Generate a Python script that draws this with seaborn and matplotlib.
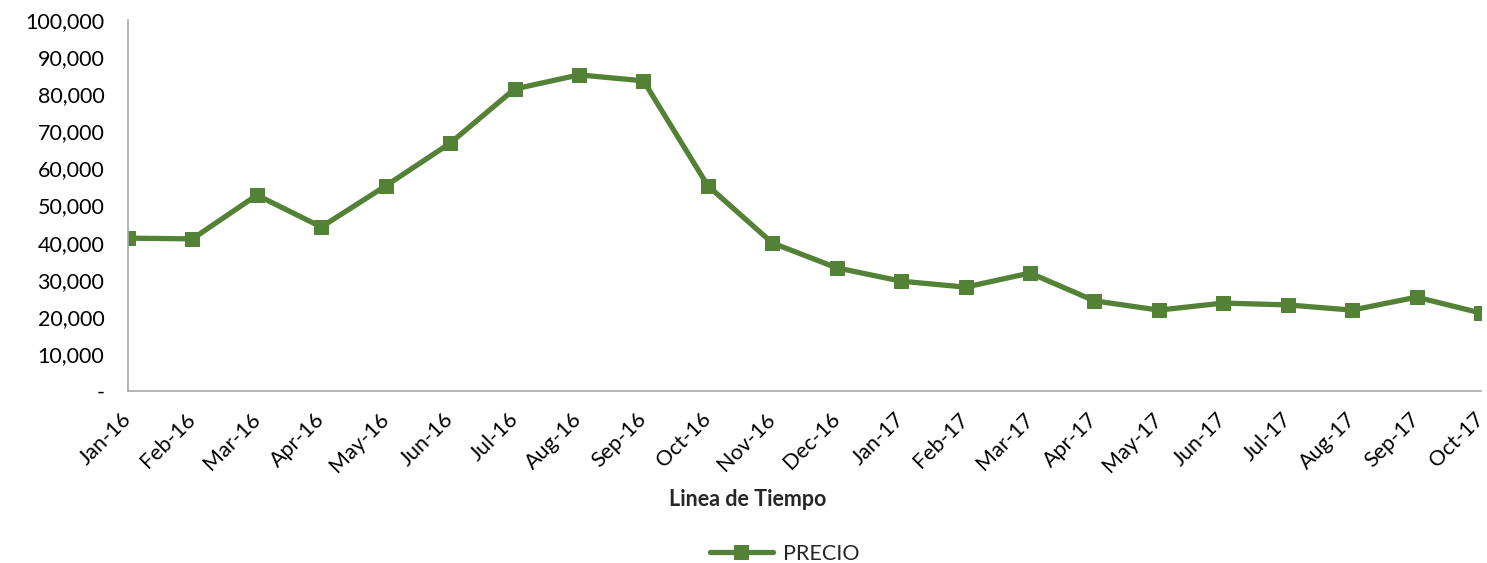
import matplotlib
matplotlib.use("Agg")
import matplotlib.pyplot as plt
import matplotlib.transforms as mtransforms
import seaborn as sns
import pandas as pd
from matplotlib.ticker import FuncFormatter

months = ["Jan-16", "Feb-16", "Mar-16", "Apr-16", "May-16", "Jun-16", "Jul-16",
          "Aug-16", "Sep-16", "Oct-16", "Nov-16", "Dec-16", "Jan-17", "Feb-17",
          "Mar-17", "Apr-17", "May-17", "Jun-17", "Jul-17", "Aug-17", "Sep-17", "Oct-17"]
precio = [41200, 41000, 52800, 44200, 55300, 66800, 81400, 85200, 83600, 55300,
          39900, 33200, 29600, 28000, 31800, 24300, 21800, 23700, 23200, 21800,
          25300, 21000]

sns.set_style("white")
plt.rcParams['font.family'] = ['Lato', 'DejaVu Sans']

df = pd.DataFrame({"mes": months, "PRECIO": precio})
df["pos"] = range(len(df))

fig = plt.figure(figsize=(14.87, 5.63), dpi=100)
ax = fig.add_axes([0.0861, 0.3055, 0.9099, 0.659])

green = "#538135"
sns.lineplot(data=df, x="pos", y="PRECIO", ax=ax, color=green, linewidth=3.8,
             marker="s", markersize=10, markeredgecolor=green, label="PRECIO",
             legend=False)

ax.set_xlim(0, len(months) - 1)
ax.set_ylim(0, 100000)
ax.set_yticks(range(0, 100001, 10000))
ax.yaxis.set_major_formatter(FuncFormatter(lambda v, p: "-" if v == 0 else f"{v:,.0f}"))
ax.set_xticks(df["pos"])
ax.set_xticklabels(months, rotation=45, ha="right", rotation_mode="anchor")

for s in ["top", "right"]:
    ax.spines[s].set_visible(False)
for s in ["left", "bottom"]:
    ax.spines[s].set_color("#a6a6a6")
    ax.spines[s].set_linewidth(1.2)
ax.tick_params(axis="both", which="both", direction="out", length=7, width=1.2,
               color="#a6a6a6", labelsize=15.5, labelcolor="#000000")
ax.tick_params(axis="x", pad=6)
ax.tick_params(axis="y", pad=10)

ax.set_ylabel("")
ax.set_xlabel("")
fig.text(748 / 1487, 1 - 500 / 563, "Linea de Tiempo", fontsize=15.5,
         fontweight="bold", ha="center", va="center")

handles, labels = ax.get_legend_handles_labels()
fig.legend(handles, labels, loc="center", bbox_to_anchor=(785 / 1487, 1 - 554 / 563),
           frameon=False, fontsize=15.5, handlelength=2.9, handletextpad=0.5,
           borderpad=0.1)

# shift x tick labels a few pixels left so the last one stays inside the figure
fig.canvas.draw()
offset = mtransforms.ScaledTranslation(-7 / 100, 0, fig.dpi_scale_trans)
for tick in ax.xaxis.get_major_ticks():
    tick.label1.set_transform(tick.label1.get_transform() + offset)

fig.savefig("out.png", dpi=100)
